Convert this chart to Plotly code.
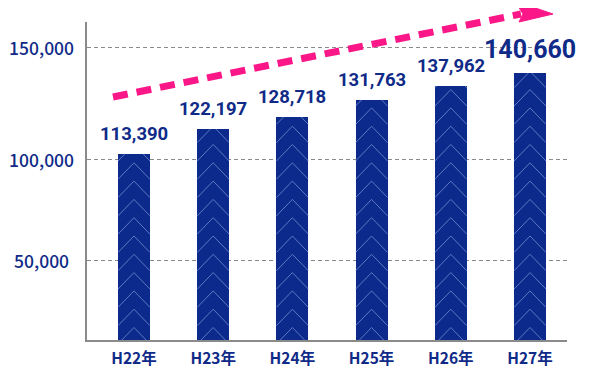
import plotly.graph_objects as go

# ---- data ----
categories = ["H22年", "H23年", "H24年", "H25年", "H26年", "H27年"]
label_values = [113390, 122197, 128718, 131763, 137962, 140660]
# bar heights as drawn in the (schematic) reference, read against its gridlines
bar_heights = [102700, 113800, 119200, 126800, 133000, 138800]
grid_values = [55200, 100000, 150000]
grid_labels = ["50,000", "100,000", "150,000"]

NAVY = "#0b2a8b"
TEXT = "#102a88"
PINK = "#fb1787"
GRID = "#8a8a8a"

Y0, Y1 = 19640, 161600
X0, X1 = -0.593, 5.467
BAR_W = 0.404

# page has an 8px body margin: plot-area geometry in screenshot pixels
OFF = 8
L, R, T, B = 87, 567, 22, 340
W, H = 600 - OFF, 369 - OFF
def px(x):
    return (x - L) / (R - L)
def py(y):
    return (B - y) / (B - T)

fig = go.Figure()

fig.add_trace(go.Bar(
    x=list(range(len(categories))), y=[h - Y0 for h in bar_heights], base=Y0,
    width=BAR_W, marker=dict(color=NAVY, line=dict(width=0)),
    hoverinfo="skip", showlegend=False,
))

# chevron texture inside each bar
units_per_px = (Y1 - Y0) / (B - T)
period = 18.3 * units_per_px
chev_h = 16.5 * units_per_px
half = BAR_W / 2
cx, cy = [], []
for i, top in enumerate(bar_heights):
    b = Y0 - 4 * units_per_px
    while b < top:
        a = b + chev_h
        if a <= top:
            cx += [i - half, i, i + half, None]
            cy += [b, a, b, None]
        else:
            f = (top - b) / chev_h
            cx += [i - half, i - half + half * f, None, i + half - half * f, i + half, None]
            cy += [b, top, None, top, b, None]
        b += period
fig.add_trace(go.Scatter(
    x=cx, y=cy, mode="lines", line=dict(color="rgba(140,160,225,0.65)", width=1),
    hoverinfo="skip", showlegend=False, cliponaxis=True,
))

annotations = []
for i, (h, v) in enumerate(zip(bar_heights, label_values)):
    big = i == len(label_values) - 1
    annotations.append(dict(
        x=i, y=h, xref="x", yref="y", text=f"{v:,}", showarrow=False,
        yanchor="middle", yshift=24 if big else 20,
        font=dict(family="Roboto, sans-serif",
                  size=25 if big else 18.5, color=TEXT, weight="bold"),
    ))
for gv, gl in zip(grid_values, grid_labels):
    annotations.append(dict(
        x=px(41), y=gv, xref="paper", yref="y", text=gl, showarrow=False,
        xanchor="center", yanchor="middle",
        font=dict(family="Noto Sans CJK JP, Noto Sans, sans-serif", size=17.5, color=TEXT, weight=500),
    ))

shapes = [
    dict(type="line", xref="paper", yref="paper",
         x0=px(113), y0=py(97), x1=px(521), y1=py(14),
         line=dict(color=PINK, width=7, dash="15px,9px")),
    dict(type="path", xref="paper", yref="paper",
         path=f"M {px(553)},{py(14)} L {px(515)},{py(1)} L {px(523)},{py(14)} L {px(519)},{py(22)} Z",
         fillcolor=PINK, line=dict(color=PINK, width=1)),
]

fig.update_layout(
    width=W, height=H,
    margin=dict(l=L - OFF, r=OFF + W - R, t=T - OFF, b=OFF + H - B, autoexpand=False),
    paper_bgcolor="white", plot_bgcolor="white",
    annotations=annotations, shapes=shapes, bargap=0,
    xaxis=dict(range=[X0, X1], tickvals=list(range(len(categories))), ticktext=categories,
               showgrid=False, zeroline=False, showline=True, linecolor=GRID, linewidth=1.5,
               ticks="", ticklabelstandoff=4, automargin=False,
               tickfont=dict(family="Noto Sans CJK JP, sans-serif", size=15.5, color=TEXT, weight="bold")),
    yaxis=dict(range=[Y0, Y1], tickvals=grid_values, showticklabels=False, automargin=False,
               showgrid=True, gridcolor=GRID, griddash="4px,3px", gridwidth=1,
               zeroline=False, showline=True, linecolor=GRID, linewidth=1.5, ticks=""),
)

fig.write_html("out.html")
